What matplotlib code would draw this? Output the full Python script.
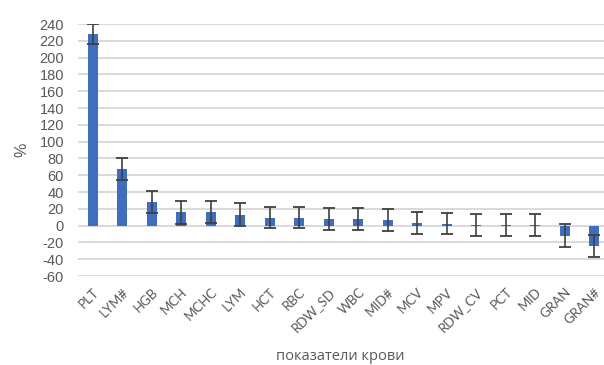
import numpy as np
import matplotlib.pyplot as plt

categories = ['PLT', 'LYM#', 'HGB', 'MCH', 'MCHC', 'LYM', 'HCT', 'RBC', 'RDW_SD',
              'WBC', 'MID#', 'MCV', 'MPV', 'RDW_CV', 'PCT', 'MID', 'GRAN', 'GRAN#']
values = [228, 67, 28, 16, 16, 13, 9.5, 9.5, 8, 7.5, 6.5, 3, 2.5, 1, 1, 0.5, -12, -24.5]
errors = [12, 13, 13, 13.5, 13, 13.5, 12.5, 12.5, 13, 13, 13, 13, 13, 13, 13, 13, 13.5, 13]
yticks = list(range(-60, 241, 20))

bar_color = '#3F6EBF'
text_color = '#595959'

fig = plt.figure(figsize=(6.04, 3.65), dpi=100)
ax = fig.add_axes([78/604, 1 - 276/365, 531/604, 252/365])

x = np.arange(len(categories))
ax.bar(x, values, width=0.34, color=bar_color, zorder=2)
ax.errorbar(x, values, yerr=errors, fmt='none', ecolor='#404040',
            elinewidth=1.2, capsize=4, capthick=1.3, zorder=3)

ax.set_xlim(-0.5, len(categories) - 0.5)
ax.set_ylim(-60, 240)
ax.set_yticks(yticks)
ax.set_yticklabels([str(t) for t in yticks], fontsize=10.5, color=text_color,
                   family='Liberation Sans')
ax.yaxis.grid(True, color='#D9D9D9', linewidth=1.4, zorder=0)
ax.set_axisbelow(True)
ax.tick_params(axis='y', length=0, pad=10)
ax.tick_params(axis='x', length=0, pad=7)

ax.set_xticks(x)
ax.set_xticklabels(categories, rotation=45, ha='right', rotation_mode='anchor',
                   fontsize=9.5, color=text_color, family='Lato')

for s in ax.spines.values():
    s.set_visible(False)

fig.text(22/604, 1 - 150/365, '%', fontsize=11.5, color=text_color,
         rotation=90, ha='center', va='center', family='Liberation Sans')
fig.text(340/604, 1 - 357/365, 'показатели крови', fontsize=10.5, color=text_color,
         ha='center', va='center', family='Open Sans')

fig.savefig('out.png', dpi=100)
